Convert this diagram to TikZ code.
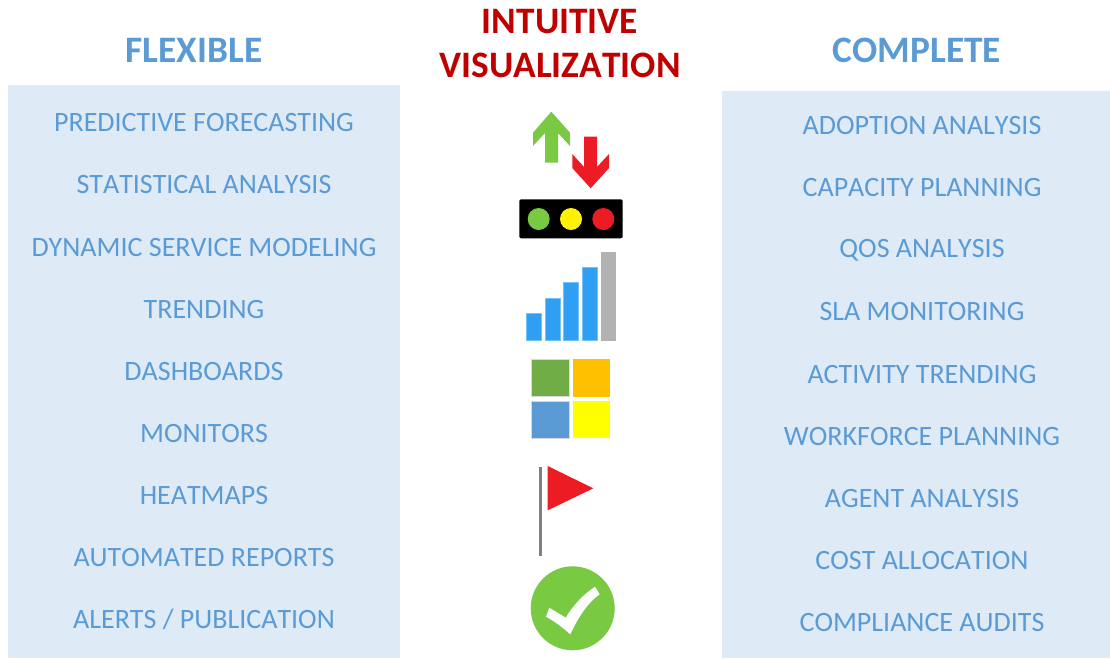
\documentclass[tikz,border=0pt]{standalone}
\usepackage{fontspec}
\setmainfont{Carlito}[Kerning=Off]
\definecolor{panelblue}{HTML}{DEEAF6}
\definecolor{textblue}{HTML}{5B9BD5}
\definecolor{titlered}{HTML}{C00000}
\definecolor{arrowgreen}{HTML}{7AC943}
\definecolor{flagred}{HTML}{ED1C24}
\definecolor{lampyellow}{HTML}{FFF200}
\definecolor{barblue}{HTML}{2E9FF2}
\definecolor{bargrey}{HTML}{B2B2B2}
\definecolor{tilegreen}{HTML}{70AD47}
\definecolor{tileorange}{HTML}{FFC000}
\definecolor{tileyellow}{HTML}{FFFF00}
\tikzset{
  panel/.style={fill=panelblue,draw=none},
  listitem/.style={text=textblue,font=\fontsize{21}{25}\selectfont,inner sep=0pt},
  paneltitle/.style={text=textblue,font=\fontsize{28}{32}\selectfont\bfseries,inner sep=0pt},
  redtitle/.style={text=titlered,font=\fontsize{28}{32}\selectfont\bfseries,inner sep=0pt},
  lamp/.style={circle,minimum size=16.5pt,inner sep=0pt},
  bar/.style={fill=barblue,draw=barblue!65!white,line width=0.5pt},
  tile/.style={draw=white!85!black,line width=0.4pt}
}
\begin{document}
\begin{tikzpicture}[x=0.75pt,y=-0.75pt]
\useasboundingbox (0,0) rectangle (1110,658);
\fill[panel] (8,85) rectangle (400,658);
\fill[panel] (722,91) rectangle (1110,658);
\node[paneltitle] (flexible) at (194,50) {FLEXIBLE};
\node[paneltitle] (complete) at (917,50) {COMPLETE};
\node[redtitle] (intuitive) at (560,22) {INTUITIVE};
\node[redtitle] (visualization) at (560,65) {VISUALIZATION};
\foreach \y/\name/\txt in {122/fore/PREDICTIVE FORECASTING,184/stat/STATISTICAL ANALYSIS,
    247/model/DYNAMIC SERVICE MODELING,309/trend/TRENDING,371/dash/DASHBOARDS,
    433/mon/MONITORS,495/heat/HEATMAPS,557/auto/AUTOMATED REPORTS,619/alerts/{ALERTS / PUBLICATION}}
  \node[listitem] (\name) at (204,\y+0.5) {\txt};
\foreach \y/\name/\txt in {125/adopt/ADOPTION ANALYSIS,187/cap/CAPACITY PLANNING,249.5/qos/QOS ANALYSIS,
    311/sla/SLA MONITORING,374/act/ACTIVITY TRENDING,436/work/WORKFORCE PLANNING,
    498/agent/AGENT ANALYSIS,560/cost/COST ALLOCATION,622/audit/COMPLIANCE AUDITS}
  \node[listitem] (\name) at (922,\y+0.5) {\txt};
% arrows
\fill[arrowgreen] (551.3,111.7) -- (570,132.7) -- (570,146) -- (558,133) -- (558,162.7) -- (545,162.7)
  -- (545,133) -- (533,146) -- (533,132.7) -- cycle;
\fill[flagred] (590.7,188.3) -- (609,168) -- (609,154) -- (597,167) -- (597,136.7) -- (584,136.7)
  -- (584,167) -- (572.3,154) -- (572.3,168) -- cycle;
% traffic light
\fill[black,rounded corners=1.5pt] (519.3,199.3) rectangle (622.7,238.3);
\node[lamp,fill=arrowgreen] (golamp) at (538.7,219) {};
\node[lamp,fill=lampyellow] (waitlamp) at (571,219) {};
\node[lamp,fill=flagred] (stoplamp) at (603.3,219) {};
% bars
\foreach \xa/\ytop in {526.3/313.3,545/298,563.7/282.3,582.3/267}
  \draw[bar] (\xa,\ytop) rectangle (\xa+15,340.3);
\fill[bargrey] (601,252) rectangle (616,341);
% tiles
\draw[tile,fill=tilegreen] (531.7,359.3) rectangle (569.3,396.7);
\fill[tileorange] (573.3,359.3) rectangle (610,396.7);
\draw[tile,fill=textblue] (531.7,401) rectangle (569.3,438.3);
\fill[tileyellow] (573.3,401) rectangle (610,438.3);
% flag
\fill[gray] (539,467) rectangle (542,556);
\fill[flagred] (547.7,466) -- (593.3,488.3) -- (547.7,510.3) -- cycle;
% check
\node[circle,fill=arrowgreen,minimum size=63pt,inner sep=0pt] (okdisc) at (572.7,608.3) {};
\fill[white] (546,616.7) -- (549.3,607.7) -- (565.7,617.7) .. controls (574,604) and (584,594) .. (595,586.7)
  -- (599.7,594.3) .. controls (586,604) and (577,620) .. (570.3,634.3) .. controls (562,627) and (554,621) .. (546,616.7) -- cycle;
\end{tikzpicture}
\end{document}
